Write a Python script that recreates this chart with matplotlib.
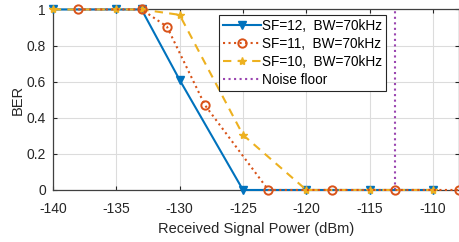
import matplotlib
matplotlib.use("Agg")
import matplotlib.pyplot as plt

plt.rcParams['font.family'] = ['Liberation Sans', 'DejaVu Sans']
plt.rcParams['axes.unicode_minus'] = False

# Data
x_sf12 = [-140, -135, -133, -130, -125, -120, -115, -110]
y_sf12 = [1.0, 1.0, 1.0, 0.61, 0.0, 0.0, 0.0, 0.0]

x_sf11 = [-138, -133, -131, -128, -123, -118, -113, -108]
y_sf11 = [1.0, 1.0, 0.905, 0.47, 0.0, 0.0, 0.0, 0.0]

x_sf10 = [-140, -135, -133, -130, -125, -120, -115, -110]
y_sf10 = [1.0, 1.0, 1.0, 0.97, 0.305, 0.0, 0.0, 0.0]

noise_x = [-113, -113]
noise_y = [0, 1]

labels = ['SF=12,  BW=70kHz', 'SF=11,  BW=70kHz', 'SF=10,  BW=70kHz', 'Noise floor']
xticks = [-140, -135, -130, -125, -120, -115, -110]
yticks = [0, 0.2, 0.4, 0.6, 0.8, 1]

fig = plt.figure(figsize=(4.59, 2.42), dpi=100)
ax = fig.add_axes([0.115, 0.215, 0.884, 0.746])

c_blue = '#0072BD'
c_orange = '#D95319'
c_yellow = '#EDB120'
c_purple = '#9A45B0'

ax.plot(x_sf12, y_sf12, '-', color=c_blue, lw=1.5, marker='v', ms=6,
        mfc=c_blue, mec=c_blue, label=labels[0], clip_on=False, zorder=3)
ax.plot(x_sf11, y_sf11, ':', color=c_orange, lw=1.5, marker='o', ms=6,
        mfc='none', mec=c_orange, mew=1.4, label=labels[1], clip_on=False, zorder=4)
ax.plot(x_sf10, y_sf10, '--', color=c_yellow, lw=1.5, marker='*', ms=6,
        mfc=c_yellow, mec=c_yellow, label=labels[2], clip_on=False, zorder=3,
        dashes=(4, 3))
ax.plot(noise_x, noise_y, ':', color=c_purple, lw=1.5, label=labels[3], zorder=2)

ax.set_xlim(-140, -108)
ax.set_ylim(0, 1)
ax.set_xticks(xticks)
ax.set_yticks(yticks)
ax.set_yticklabels(['0', '0.2', '0.4', '0.6', '0.8', '1'])
ax.grid(True, color='#dcdcdc', lw=0.8)
ax.set_axisbelow(True)
ax.tick_params(direction='in', top=True, right=True, labelsize=10,
               colors='#262626', length=3, width=0.8)
ax.tick_params(axis='x', pad=9)
ax.tick_params(axis='y', pad=5)
for s in ax.spines.values():
    s.set_color('#404040')
    s.set_linewidth(0.9)

ax.set_xlabel('Received Signal Power (dBm)', fontsize=10.5, color='#262626', labelpad=4)
ax.set_ylabel('BER', fontsize=10.5, color='#262626', labelpad=1)

leg = ax.legend(loc='upper right', bbox_to_anchor=(0.822, 0.97), fontsize=9.8,
                frameon=True, fancybox=False, edgecolor='#262626', framealpha=1,
                handlelength=2.8, handletextpad=0.1, borderpad=0.3,
                labelspacing=0.3, borderaxespad=0)
leg.get_frame().set_linewidth(0.8)

fig.savefig('out.png', dpi=100)
